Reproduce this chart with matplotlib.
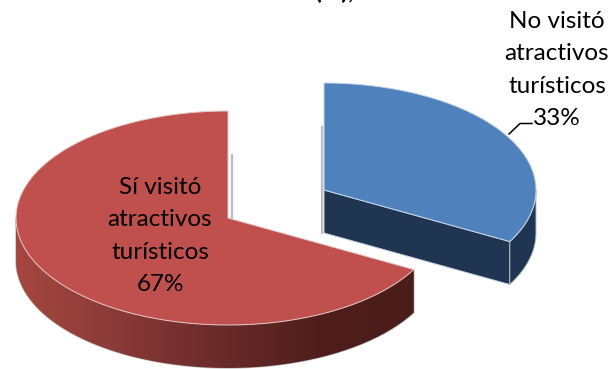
import numpy as np
import matplotlib
matplotlib.use("Agg")
import matplotlib.pyplot as plt
from matplotlib.colors import LinearSegmentedColormap
from matplotlib.patches import PathPatch, Polygon
from matplotlib.path import Path

categories = ["No visitó\natractivos\nturísticos", "Sí visitó\natractivos\nturísticos"]
shares = [33, 67]
top_colors = ["#4F81BD", "#C0504D"]
title_tail = "(%),"

plt.rcParams["font.family"] = ["Lato", "DejaVu Sans"]
W, H = 611, 369
fig = plt.figure(figsize=(W / 100, H / 100), dpi=100)
ax = fig.add_axes([0, 0, 1, 1])
ax.set_xlim(0, W)
ax.set_ylim(H, 0)
ax.axis("off")

A, B, DEPTH = 212, 107, 43


def rim(cx, cy, start, stop, n=160):
    """Points on the elliptical rim; angles run clockwise from 12 o'clock."""
    t = np.radians(np.linspace(start, stop, n))
    return np.column_stack([cx + A * np.sin(t), cy - B * np.cos(t)])


boundary = shares[0] / sum(shares) * 360
blue_c = (324, 190)
red_c = (228, 218)

# Soft shadows behind the cut faces
ax.plot([321.5, 321.5], [127, blue_c[1] + DEPTH], color="#BDBDBD", lw=1.6, zorder=1)
ax.plot([231.5, 231.5], [155, red_c[1]], color="#BDBDBD", lw=1.6, zorder=1)

# Detached blue slice: cut wall, rim wall, top face
arc = rim(*blue_c, 0, boundary)
face = np.vstack([blue_c, arc])
cut = [blue_c, tuple(arc[-1]), (arc[-1][0], arc[-1][1] + DEPTH), (blue_c[0], blue_c[1] + DEPTH)]
ax.add_patch(Polygon(cut, closed=True, fc="#1F3552", ec="#C9D3DF", lw=0.7, zorder=2))
outer = rim(*blue_c, 90, boundary)
wall = np.vstack([outer, (outer + [0, DEPTH])[::-1]])
ax.add_patch(Polygon(wall, closed=True, fc="#1F3552", ec="#BDBDBD", lw=0.7, zorder=2))
ax.add_patch(Polygon(face, closed=True, fc=top_colors[0], ec="#C7D6E8", lw=0.7, zorder=3))

# Red slice: gradient rim wall, then top face
arc = rim(*red_c, boundary, 360)
face = np.vstack([red_c, arc])
outer = rim(*red_c, boundary, 270)
wall = np.vstack([outer, (outer + [0, DEPTH])[::-1]])
ax.add_patch(Polygon(wall, closed=True, fc="none", ec="#BDBDBD", lw=1.0, zorder=2))
clip = PathPatch(Path(wall), transform=ax.transData, fc="none", ec="none")
ax.add_patch(clip)
side_cmap = LinearSegmentedColormap.from_list(
    "side", ["#A5473F", "#8A3A38", "#6A2B2A", "#4F1E1C", "#4A1C1A"]
)
shade = ax.imshow(
    np.linspace(0, 1, 256)[None, :], cmap=side_cmap, aspect="auto",
    extent=(15, 421, 369, 220), zorder=2.2,
)
shade.set_clip_path(clip)
ax.set_xlim(0, W)
ax.set_ylim(H, 0)
ax.add_patch(Polygon(face, closed=True, fc=top_colors[1], ec="#E6C9C8", lw=0.7, zorder=3))

# Labels and leader line
ax.plot([509, 520, 532], [134, 123.5, 123.5], color="black", lw=1.1, zorder=4)
ax.text(557, 70, f"{categories[0]}\n{shares[0]}%",
        ha="center", va="center", fontsize=17.5, linespacing=1.68, zorder=5)
ax.text(160, 236, f"{categories[1]}\n{shares[1]}%",
        ha="center", va="center", fontsize=17.5, linespacing=1.68, zorder=5)
ax.text(334, -1, title_tail, ha="center", va="baseline", fontsize=18, fontweight="bold", zorder=5)

fig.savefig("out.png", dpi=100)
